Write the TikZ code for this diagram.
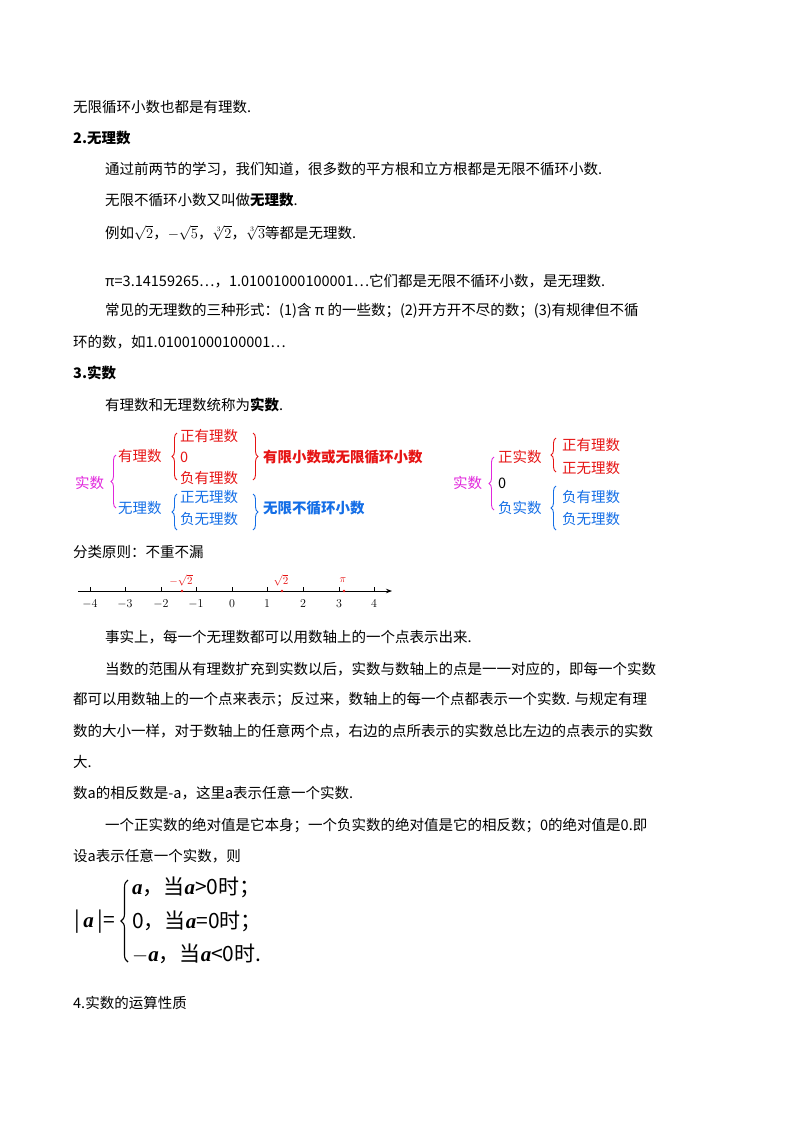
\documentclass[tikz,border=0pt]{standalone}
\usepackage{fontspec}
\setmainfont{Noto Sans CJK SC}
\newfontfamily\tnr{Liberation Serif}
\newcommand{\va}{{\tnr\bfseries\itshape a}}
\usetikzlibrary{decorations.pathreplacing,arrows.meta}
\definecolor{myred}{RGB}{230,20,20}
\definecolor{myblue}{RGB}{20,110,230}
\definecolor{mymag}{RGB}{225,40,220}
\begin{document}
\begin{tikzpicture}[x=1pt,y=-1pt,
  t/.style={anchor=west,inner sep=0pt,font=\fontsize{14.5}{16}\selectfont},
  br/.style={decorate,decoration={brace,amplitude=5pt},line width=0.9pt},
  tick/.style={line width=0.8pt}]
\useasboundingbox (0,0) rectangle (800,1132);
\node[t] (l1) at (73,107) {无限循环小数也都是有理数.};
\node[t,font=\fontsize{14.5}{16}\selectfont\bfseries] (h2) at (73,138) {2.无理数};
\node[t] (l3) at (105,169) {通过前两节的学习，我们知道，很多数的平方根和立方根都是无限不循环小数.};
\node[t] (l4) at (105,200) {无限不循环小数又叫做\textbf{无理数}.};
\node[t] (l5) at (105,233) {例如$\sqrt2$，$-\sqrt5$，$\sqrt[3]{2}$，$\sqrt[3]{3}$等都是无理数.};
\node[t] (l6) at (105,281) {π=3.14159265…，1.01001000100001…它们都是无限不循环小数，是无理数.};
\node[t] (l7) at (105,311) {常见的无理数的三种形式：(1)含 π 的一些数；(2)开方开不尽的数；(3)有规律但不循};
\node[t] (l8) at (73,342) {环的数，如1.01001000100001…};
\node[t,font=\fontsize{14.5}{16}\selectfont\bfseries] (h3) at (73,373) {3.实数};
\node[t] (l9) at (105,405) {有理数和无理数统称为\textbf{实数}.};
% left classification
\node[t,text=mymag] (sd) at (75,483) {实数};
\draw[br,mymag] (116,508) -- (116,455);
\node[t,text=myred] (yl) at (118,456) {有理数};
\draw[br,myred] (177,480) -- (177,433);
\node[t,text=myred] (zy) at (180,436) {正有理数};
\node[t,text=myred] (z0) at (180,457) {0};
\node[t,text=myred] (fy) at (180,478) {负有理数};
\draw[br,myred] (253,433) -- (253,480);
\node[t,text=myred,font=\fontsize{14.5}{16}\selectfont\bfseries] (yx) at (263,457) {有限小数或无限循环小数};
\node[t,text=myblue] (wl) at (118,508) {无理数};
\draw[br,myblue] (177,530) -- (177,494);
\node[t,text=myblue] (zw) at (180,497) {正无理数};
\node[t,text=myblue] (fw) at (180,519) {负无理数};
\draw[br,myblue] (253,494) -- (253,530);
\node[t,text=myblue,font=\fontsize{14.5}{16}\selectfont\bfseries] (wx) at (263,508) {无限不循环小数};
% right classification
\node[t,text=mymag] (sd2) at (453,483) {实数};
\draw[br,mymag] (494,510) -- (494,457);
\node[t,text=myred] (zs) at (498,457) {正实数};
\draw[br,myred] (556,472) -- (556,438);
\node[t,text=myred] (zy2) at (562,445) {正有理数};
\node[t,text=myred] (zw2) at (562,468) {正无理数};
\node[t] (r0) at (498,483) {0};
\node[t,text=myblue] (fs) at (498,508) {负实数};
\draw[br,myblue] (556,530) -- (556,486);
\node[t,text=myblue] (fy2) at (562,497) {负有理数};
\node[t,text=myblue] (fw2) at (562,519) {负无理数};
\node[t] (fl) at (73,552) {分类原则：不重不漏};
% number line
\coordinate (a0) at (78,591);
\coordinate (a1) at (392,591);
\draw[line width=0.8pt,-{Stealth[length=6pt]}] (a0) -- (a1);
\foreach \n/\x in {-4/90,-3/125,-2/161,-1/196,0/232,1/267,2/303,3/339,4/374}{
  \draw[tick] (\x,591) -- (\x,587);
  \node[inner sep=0pt,font=\fontsize{12}{14}\selectfont] (n\x) at (\x,604) {$\n$};
}
\foreach \x/\lab in {182/-\sqrt2,282/\sqrt2,344/\pi}{
  \fill[myred] (\x,591) circle (1.3pt);
  \node[inner sep=0pt,text=myred,font=\fontsize{11}{13}\selectfont] (p\x) at (\x-1,580) {$\lab$};
}
\node[t] (m1) at (105,637) {事实上，每一个无理数都可以用数轴上的一个点表示出来.};
\node[t] (m2) at (105,669) {当数的范围从有理数扩充到实数以后，实数与数轴上的点是一一对应的，即每一个实数};
\node[t] (m3) at (73,700) {都可以用数轴上的一个点来表示；反过来，数轴上的每一个点都表示一个实数. 与规定有理};
\node[t] (m4) at (73,731) {数的大小一样，对于数轴上的任意两个点，右边的点所表示的实数总比左边的点表示的实数};
\node[t] (m5) at (73,762) {大.};
\node[t] (m6) at (73,793) {数a的相反数是-a，这里a表示任意一个实数.};
\node[t] (m7) at (105,825) {一个正实数的绝对值是它本身；一个负实数的绝对值是它的相反数；0的绝对值是0.即};
\node[t] (m8) at (73,856) {设a表示任意一个实数，则};
% absolute value
\node[t,font=\fontsize{21}{24}\selectfont] (abs) at (74,922) {|\,\va\,|=};
\draw[decorate,decoration={brace,amplitude=7pt},line width=1.1pt] (128,962) -- (128,880);
\node[t,font=\fontsize{21}{24}\selectfont] (c1) at (132,887) {\va，当\va>0时；};
\node[t,font=\fontsize{21}{24}\selectfont] (c2) at (132,921) {0，当\va=0时；};
\node[t,font=\fontsize{21}{24}\selectfont] (c3) at (132,954) {$-$\va，当\va<0时.};
\node[t] (h4) at (73,1003) {4.实数的运算性质};
\end{tikzpicture}
\end{document}
